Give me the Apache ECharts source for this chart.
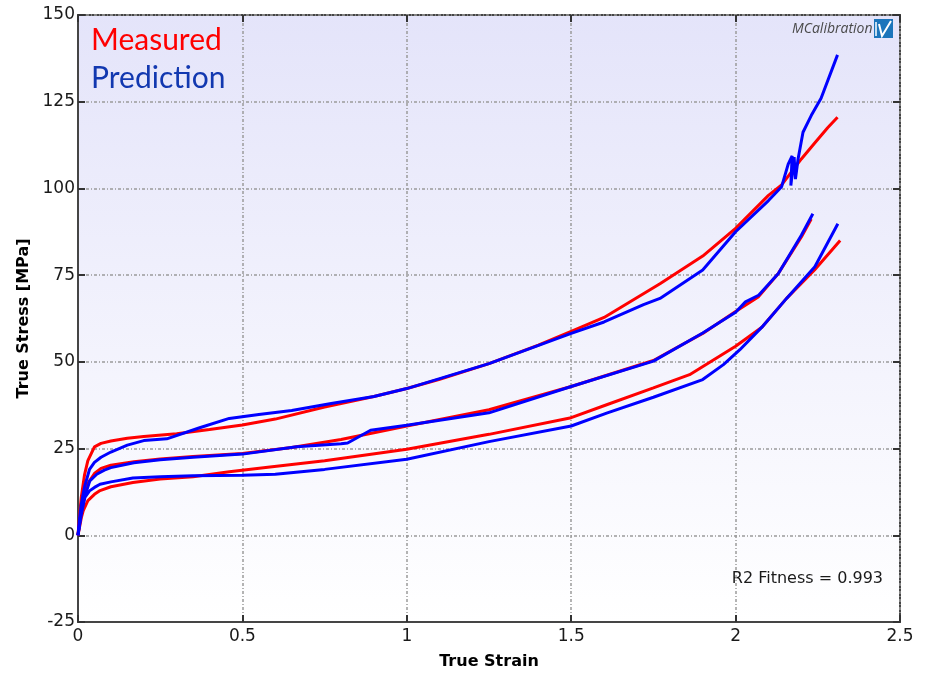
<!DOCTYPE html>
<html>
<head>
<meta charset="utf-8">
<script src="https://cdn.jsdelivr.net/npm/echarts@6/dist/echarts.min.js"></script>
<style>
  html, body { margin: 0; padding: 0; background: #fff; }
  #chart { width: 927px; height: 675px; }
</style>
</head>
<body>
<div id="chart"></div>
<script>
// axis ticks
var xTicks = [0, 0.5, 1, 1.5, 2, 2.5];
var yTicks = [-25, 0, 25, 50, 75, 100, 125, 150];

// top curve
var measA_x = [0, 0.005, 0.01, 0.02, 0.03, 0.05, 0.07, 0.1, 0.15, 0.2, 0.3, 0.4, 0.5, 0.6, 0.75, 0.9, 1.0, 1.1, 1.25, 1.4, 1.5, 1.6, 1.77, 1.9, 2.0, 2.1, 2.14, 2.2, 2.24, 2.28, 2.31];
var measA_y = [0, 6, 11, 17.5, 21.5, 25.5, 26.5, 27.2, 28, 28.5, 29.3, 30.5, 31.8, 33.5, 37, 40, 42.3, 45, 49.5, 54.8, 58.8, 62.8, 72.5, 80.5, 88.5, 98, 101, 108.5, 113, 117.5, 120.5];
var predA_x = [0, 0.005, 0.01, 0.02, 0.035, 0.05, 0.07, 0.1, 0.15, 0.2, 0.27, 0.37, 0.46, 0.55, 0.65, 0.77, 0.9, 1.0, 1.25, 1.5, 1.6, 1.72, 1.77, 1.9, 2.0, 2.1, 2.14, 2.16, 2.172, 2.168, 2.178, 2.182, 2.19, 2.205, 2.23, 2.26, 2.31];
var predA_y = [0, 5, 9, 14, 19, 21, 22.5, 24, 26, 27.3, 27.8, 31, 33.7, 34.8, 36, 38, 40, 42.3, 49.5, 58.2, 61.5, 66.5, 68.3, 76.5, 87.5, 96.5, 100.5, 107, 109.4, 100.8, 109, 102.7, 108.5, 116.2, 121, 126, 138.5];

// middle curve
var measB_x = [0, 0.005, 0.01, 0.02, 0.03, 0.05, 0.07, 0.1, 0.17, 0.25, 0.35, 0.5, 0.65, 0.8, 1.0, 1.25, 1.5, 1.75, 1.9, 2.0, 2.07, 2.13, 2.2, 2.23];
var measB_y = [0, 4, 7.5, 12, 15, 17.8, 19.3, 20.2, 21.2, 22, 22.7, 23.6, 25.3, 27.6, 31.5, 36.2, 42.9, 50.4, 58.2, 64.5, 68.8, 75.5, 86, 91.2];
var predB_x = [0, 0.005, 0.01, 0.02, 0.036, 0.057, 0.08, 0.1, 0.17, 0.25, 0.35, 0.5, 0.665, 0.8, 0.82, 0.89, 1.0, 1.25, 1.5, 1.75, 1.9, 2.0, 2.03, 2.07, 2.13, 2.2, 2.235];
var predB_y = [0, 3.5, 7, 11, 15.7, 17.6, 18.8, 19.5, 20.9, 21.8, 22.5, 23.4, 25.5, 26.4, 26.6, 30.3, 31.7, 35.3, 42.9, 50.2, 58.3, 64.3, 67.3, 69.2, 75.5, 86.5, 92.7];

// bottom curve
var measC_x = [0, 0.005, 0.01, 0.016, 0.03, 0.05, 0.067, 0.1, 0.167, 0.25, 0.35, 0.46, 0.584, 0.75, 1.0, 1.25, 1.5, 1.61, 1.75, 1.86, 2.0, 2.08, 2.155, 2.24, 2.318];
var measC_y = [0, 2.5, 5, 7.1, 10, 11.8, 12.9, 14, 15.2, 16.2, 16.9, 18.3, 19.7, 21.5, 24.8, 29.1, 33.9, 37.7, 42.5, 46.3, 54.5, 60, 68.3, 76.5, 85];
var predC_x = [0, 0.005, 0.01, 0.021, 0.035, 0.05, 0.067, 0.1, 0.167, 0.25, 0.35, 0.5, 0.6, 0.75, 1.0, 1.25, 1.5, 1.61, 1.75, 1.9, 1.963, 2.013, 2.08, 2.155, 2.241, 2.311];
var predC_y = [0, 3, 6, 10.9, 12.8, 13.8, 14.7, 15.4, 16.5, 16.9, 17.2, 17.3, 17.6, 19, 21.9, 27, 31.5, 35.3, 39.8, 44.9, 49.2, 53.5, 60, 68.3, 77.4, 89.8];

var fitText = 'R2 Fitness = 0.993';

function pairs(xs, ys) {
  var out = [];
  for (var i = 0; i < xs.length; i++) out.push([xs[i], ys[i]]);
  return out;
}

function curve(name, color, xs, ys) {
  return {
    name: name,
    type: 'line',
    data: pairs(xs, ys),
    showSymbol: false,
    symbol: 'none',
    lineStyle: { color: color, width: 3 },
    itemStyle: { color: color },
    animation: false
  };
}

var myChart = echarts.init(document.getElementById('chart'));

var tickFont = { fontFamily: 'DejaVu Sans', fontSize: 17, color: '#1a1a1a' };
var gridLine = { show: true, lineStyle: { color: '#9a9a9a', width: 1.5, type: [3, 2, 1, 2] } };
var inTick = { show: true, inside: true, length: 7, lineStyle: { color: '#333', width: 2 } };

var option = {
  backgroundColor: '#ffffff',
  animation: false,
  grid: {
    left: 78, right: 27, top: 15, bottom: 50,
    show: true,
    borderColor: '#454545',
    borderWidth: 2,
    backgroundColor: {
      type: 'linear', x: 0, y: 0, x2: 0, y2: 1,
      colorStops: [
        { offset: 0, color: '#e4e4fa' },
        { offset: 1, color: '#ffffff' }
      ]
    }
  },
  xAxis: [{
    type: 'value',
    min: xTicks[0], max: xTicks[xTicks.length - 1], interval: 0.5,
    name: 'True Strain',
    nameLocation: 'middle',
    nameGap: 32,
    nameTextStyle: { fontFamily: 'DejaVu Sans', fontSize: 16, fontWeight: 'bold', color: '#000' },
    axisLine: { show: true, onZero: false, lineStyle: { color: '#454545', width: 2 } },
    axisTick: inTick,
    axisLabel: Object.assign({ margin: 6 }, tickFont),
    splitLine: gridLine
  }, {
    type: 'value', position: 'top',
    min: xTicks[0], max: xTicks[xTicks.length - 1], interval: 0.5,
    axisLine: { show: false, onZero: false },
    axisTick: inTick,
    axisLabel: { show: false },
    splitLine: { show: false }
  }],
  yAxis: [{
    type: 'value',
    min: yTicks[0], max: yTicks[yTicks.length - 1], interval: 25,
    name: 'True Stress [MPa]',
    nameLocation: 'middle',
    nameGap: 42,
    nameTextStyle: { fontFamily: 'DejaVu Sans', fontSize: 16, fontWeight: 'bold', color: '#000' },
    axisLine: { show: true, onZero: false, lineStyle: { color: '#454545', width: 2 } },
    axisTick: inTick,
    axisLabel: Object.assign({ margin: 3 }, tickFont),
    splitLine: gridLine
  }, {
    type: 'value', position: 'right',
    min: yTicks[0], max: yTicks[yTicks.length - 1], interval: 25,
    axisLine: { show: false, onZero: false },
    axisTick: inTick,
    axisLabel: { show: false },
    splitLine: { show: false }
  }],
  series: [
    curve('Measured 1', '#ff0000', measA_x, measA_y),
    curve('Measured 2', '#ff0000', measB_x, measB_y),
    curve('Measured 3', '#ff0000', measC_x, measC_y),
    curve('Prediction 1', '#0000ff', predA_x, predA_y),
    curve('Prediction 2', '#0000ff', predB_x, predB_y),
    curve('Prediction 3', '#0000ff', predC_x, predC_y)
  ],
  graphic: [
    { type: 'text', left: 91, top: 25, style: { text: 'Measured', fill: '#ff0000', font: '30px Lato' } },
    { type: 'text', left: 91, top: 63, style: { text: 'Prediction', fill: '#1238b0', font: '30px Lato' } },
    { type: 'text', left: 792, top: 22, style: { text: 'MCalibration', fill: '#4a4a4a', font: 'italic 14px "Open Sans"' } },
    { type: 'rect', shape: { x: 874, y: 19, width: 19, height: 19 }, style: { fill: '#1b75bb' } },
    { type: 'polyline', shape: { points: [[876, 22], [876, 36]] }, style: { stroke: '#fff', lineWidth: 1.5, fill: null } },
    { type: 'polyline', shape: { points: [[879, 24], [882, 36], [891, 21]] }, style: { stroke: '#fff', lineWidth: 2, fill: null } },
    { type: 'text', right: 44, top: 571, style: { text: fitText, fill: '#1a1a1a', font: '16px "DejaVu Sans"' } }
  ]
};

myChart.setOption(option);
window.addEventListener('resize', function () {
  myChart.resize();
});
</script>
</body>
</html>
